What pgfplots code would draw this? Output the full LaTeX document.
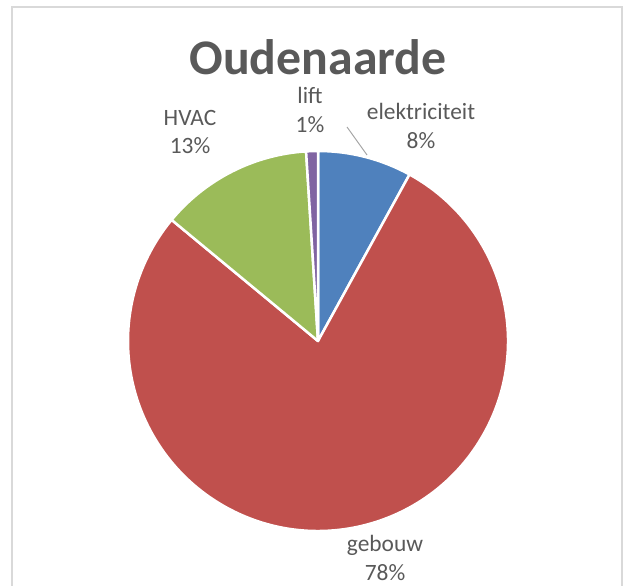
\documentclass[border=0pt]{standalone}
\usepackage{pgfplots}
\usepackage{pgfplotstable}
\pgfplotsset{compat=1.18}
\usepackage{fontspec}
\setmainfont{Carlito}
\definecolor{pblue}{HTML}{4F81BD}
\definecolor{pred}{HTML}{C0504D}
\definecolor{pgreen}{HTML}{9BBB59}
\definecolor{ppurple}{HTML}{8064A2}
\definecolor{txt}{HTML}{595959}

% share in percent, clockwise from 12 o'clock
\pgfplotstableread{
label value color
elektriciteit 8 pblue
gebouw 78 pred
HVAC 13 pgreen
lift 1 ppurple
}\piedata

\begin{document}
\begin{tikzpicture}
\useasboundingbox (0,0) rectangle (624bp,586bp);
\begin{axis}[
  scale only axis,
  width=624bp, height=586bp,
  xmin=0, xmax=624, ymin=0, ymax=586,
  axis lines=none,
  clip=false,
]
% chart frame
\draw[draw=black!15, line width=2bp] (axis cs:12,-20) -- (axis cs:12,579) -- (axis cs:622,579) -- (axis cs:622,-20);

\pgfplotstablegetrowsof{\piedata}
\pgfmathtruncatemacro\N{\pgfplotsretval-1}
\def\cum{0}
\pgfplotsforeachungrouped \i in {0,...,\N}{
  \pgfplotstablegetelem{\i}{value}\of\piedata \let\v\pgfplotsretval
  \pgfplotstablegetelem{\i}{color}\of\piedata \let\c\pgfplotsretval
  \pgfmathsetmacro\a{90-3.6*\cum}
  \pgfmathsetmacro\b{90-3.6*(\cum+\v)}
  \edef\temp{\noexpand\fill[\c, draw=white, line width=2.5bp, line join=round]
    (axis cs:318,245) -- ++(\a:190bp) arc[start angle=\a, end angle=\b, radius=190bp] -- cycle;}
  \temp
  \pgfmathsetmacro\cum{\cum+\v}
}

% leader line
\draw[black!35, line width=1bp] (axis cs:347,459) -- (axis cs:367,431);

\node[font=\fontsize{50}{60}\selectfont\bfseries, text=txt] at (axis cs:318,529) {Oudenaarde};
\begin{scope}[every node/.style={font=\fontsize{23.5}{29}\selectfont, text=txt, align=center}]
\node at (axis cs:421,460) {elektriciteit\\8\%};
\node at (axis cs:310,476) {lift\\1\%};
\node at (axis cs:190,454) {HVAC\\13\%};
\node at (axis cs:385,28) {gebouw\\78\%};
\end{scope}
\end{axis}
\end{tikzpicture}
\end{document}
